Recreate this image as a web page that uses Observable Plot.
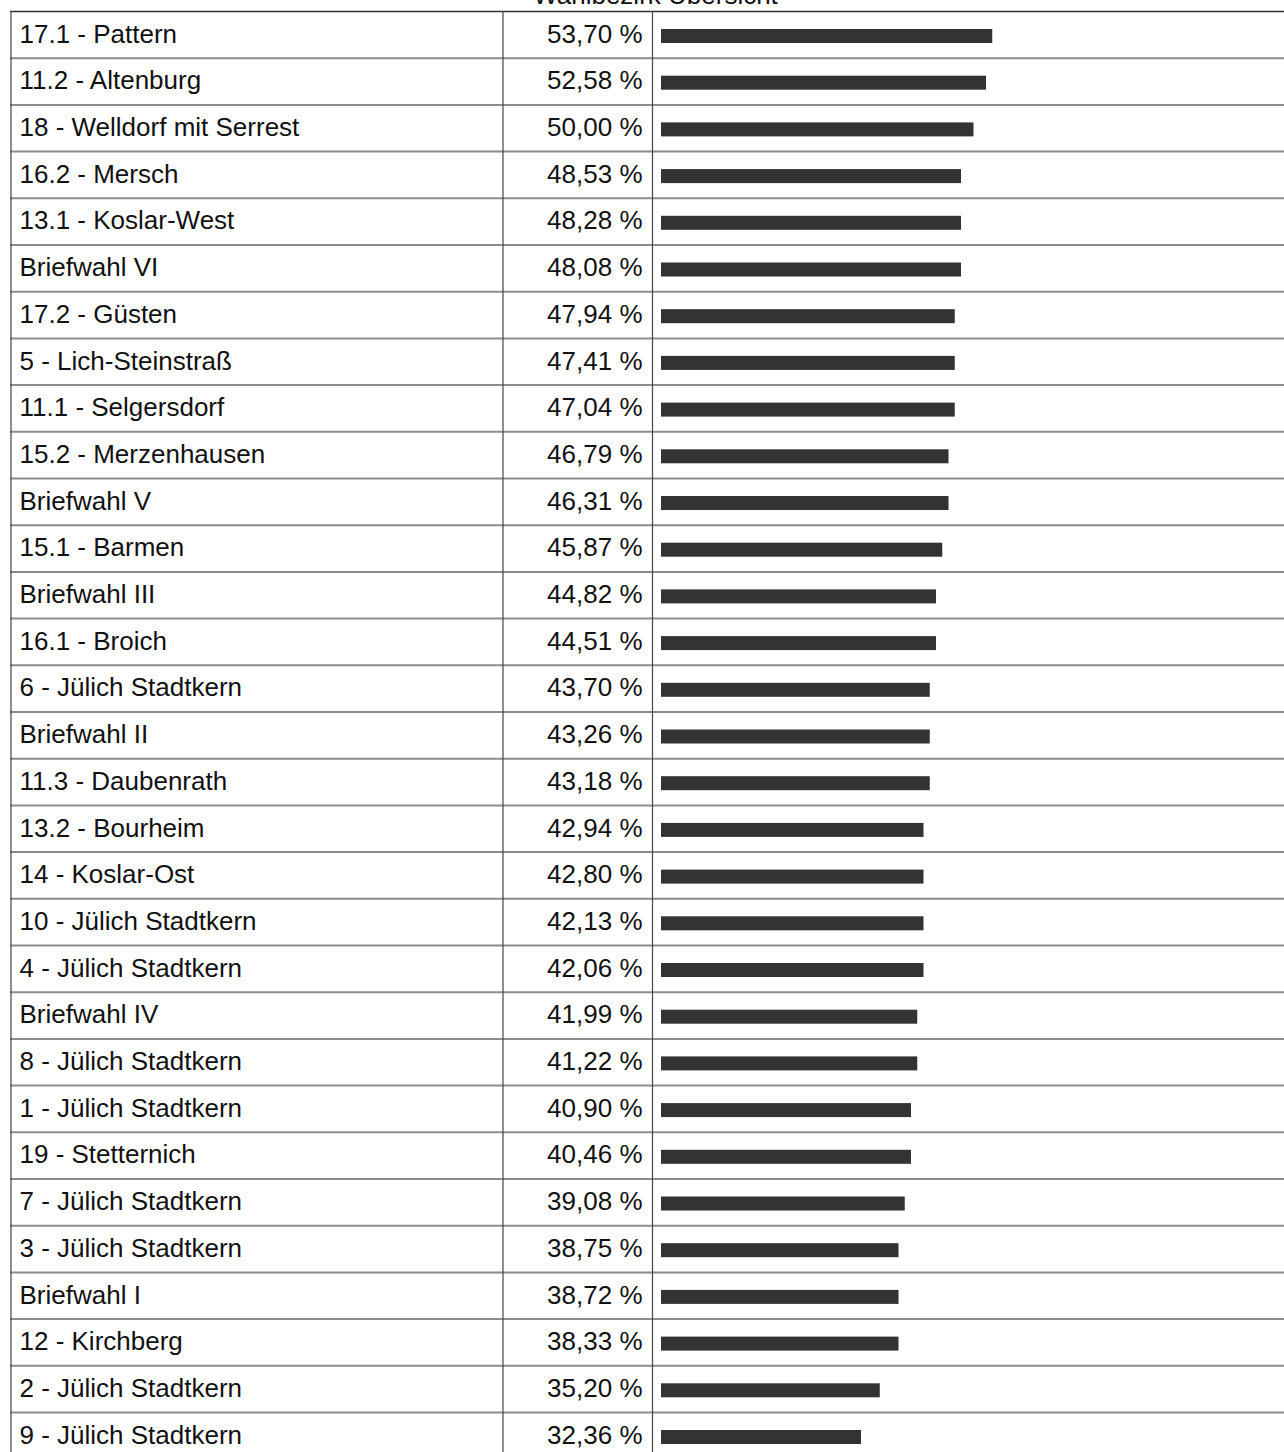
<!DOCTYPE html>
<html>
<head>
<meta charset="utf-8">
<script src="https://cdn.jsdelivr.net/npm/d3@7"></script>
<script src="https://cdn.jsdelivr.net/npm/@observablehq/plot@0.6"></script>
<style>
  html, body { margin: 0; padding: 0; background: #fff; }
  #chart svg { display: block; }
</style>
</head>
<body>
<div id="chart"></div>
<script>
const title = "Wahlbezirk Übersicht";

const names = [
  "17.1 - Pattern",
  "11.2 - Altenburg",
  "18 - Welldorf mit Serrest",
  "16.2 - Mersch",
  "13.1 - Koslar-West",
  "Briefwahl VI",
  "17.2 - Güsten",
  "5 - Lich-Steinstraß",
  "11.1 - Selgersdorf",
  "15.2 - Merzenhausen",
  "Briefwahl V",
  "15.1 - Barmen",
  "Briefwahl III",
  "16.1 - Broich",
  "6 - Jülich Stadtkern",
  "Briefwahl II",
  "11.3 - Daubenrath",
  "13.2 - Bourheim",
  "14 - Koslar-Ost",
  "10 - Jülich Stadtkern",
  "4 - Jülich Stadtkern",
  "Briefwahl IV",
  "8 - Jülich Stadtkern",
  "1 - Jülich Stadtkern",
  "19 - Stetternich",
  "7 - Jülich Stadtkern",
  "3 - Jülich Stadtkern",
  "Briefwahl I",
  "12 - Kirchberg",
  "2 - Jülich Stadtkern",
  "9 - Jülich Stadtkern"
];

const values = [
  53.70, 52.58, 50.00, 48.53, 48.28, 48.08, 47.94, 47.41, 47.04, 46.79,
  46.31, 45.87, 44.82, 44.51, 43.70, 43.26, 43.18, 42.94, 42.80, 42.13,
  42.06, 41.99, 41.22, 40.90, 40.46, 39.08, 38.75, 38.72, 38.33, 35.20,
  32.36
];

const rows = names.map((name, i) => ({name, value: values[i]}));
const fmt = v => v.toFixed(2).replace(".", ",") + " %";

const rowH = 46.7;
const top0 = 11;
const font = "'Liberation Sans', Arial, Helvetica, sans-serif";

const chart = Plot.plot({
  width: 1284,
  height: 1452,
  marginTop: 0, marginRight: 0, marginBottom: 0, marginLeft: 0,
  style: {fontFamily: font, background: "#fff", overflow: "visible"},
  x: {type: "linear", domain: [0, 100], range: [661, 1286], axis: null},
  y: {type: "band", domain: names, range: [top0, top0 + names.length * rowH], padding: 0, round: false, axis: null},
  marks: [
    // row separators (top of each row)
    Plot.ruleY(names.slice(1), {
      y: d => d, dy: -rowH / 2,
      x1: {value: () => 10, scale: null}, x2: {value: () => 1284, scale: null},
      stroke: "#8c8c8c", strokeWidth: 2
    }),
    // top border
    Plot.ruleY(names.slice(0, 1), {
      y: d => d, dy: -rowH / 2,
      x1: {value: () => 10, scale: null}, x2: {value: () => 1284, scale: null},
      stroke: "#333", strokeWidth: 1.5
    }),
    // column borders
    Plot.ruleX([10.5, 502.5, 652], {
      x: {value: d => d, scale: null},
      y1: {value: () => top0, scale: null},
      y2: {value: () => 1452, scale: null},
      stroke: "#444", strokeWidth: 1.2
    }),
    // bars
    Plot.barX(rows, {
      x: d => Math.floor(d.value), y: "name", fill: "#333",
      insetTop: 18, insetBottom: rowH - 18 - 14
    }),
    // names
    Plot.text(rows, {
      x: {value: () => 19, scale: null}, y: "name", text: "name",
      textAnchor: "start", fontSize: 26, fill: "#111", dy: -0.5
    }),
    // values
    Plot.text(rows, {
      x: {value: () => 642, scale: null}, y: "name", text: d => fmt(d.value),
      textAnchor: "end", fontSize: 26, fill: "#111", dy: -0.5
    }),
    // title (mostly clipped at top, as in the reference)
    Plot.text([title], {
      frameAnchor: "top", lineAnchor: "middle", dx: 13, dy: -4.8, text: d => d,
      fontSize: 26, fill: "#111"
    })
  ]
});
document.getElementById("chart").appendChild(chart);
</script>
</body>
</html>
